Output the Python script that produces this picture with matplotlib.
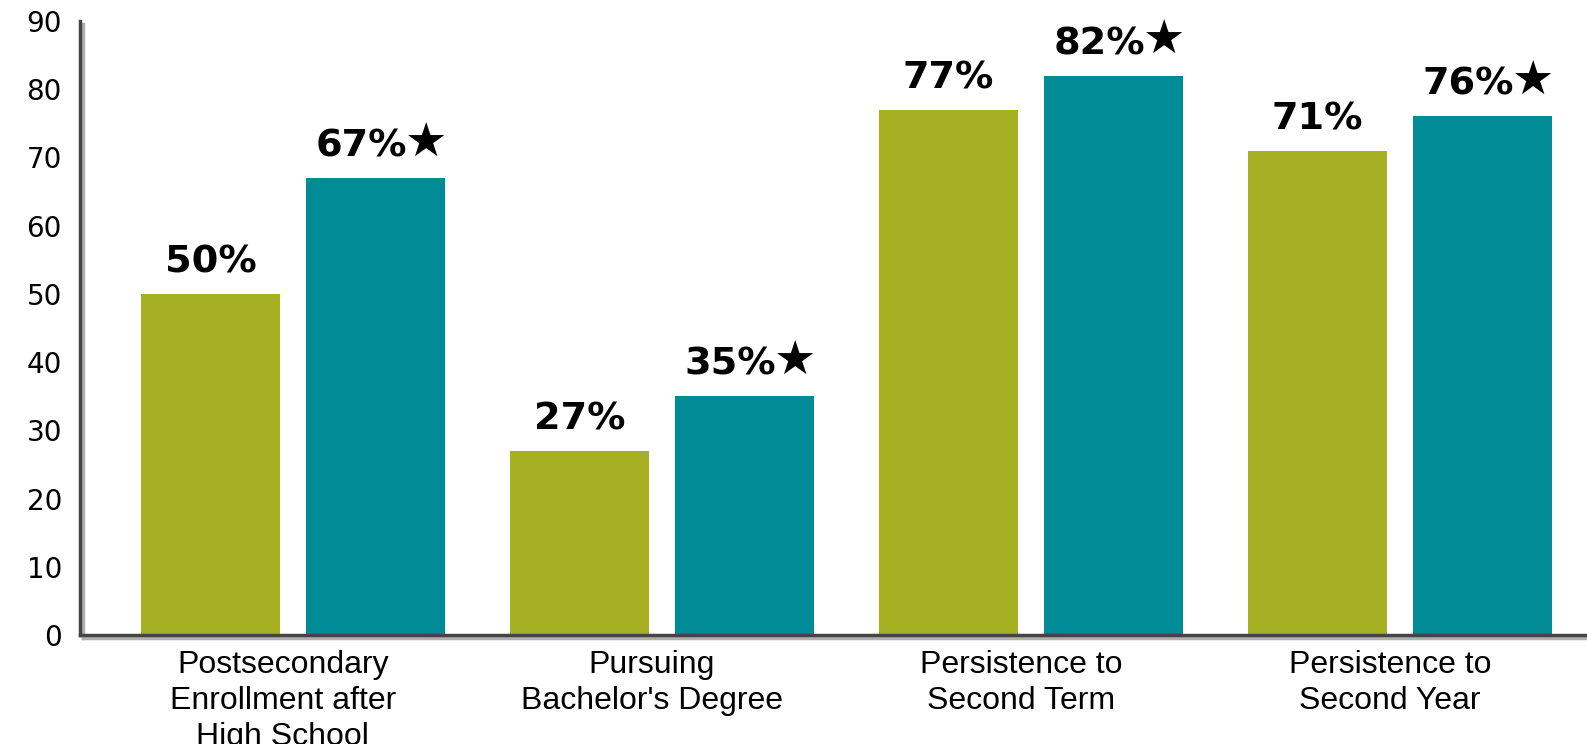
import numpy as np
import matplotlib
matplotlib.use("Agg")
import matplotlib.pyplot as plt
import matplotlib.patheffects as pe
import matplotlib.transforms as mtransforms

# data
categories = ["Postsecondary\nEnrollment after\nHigh School",
              "Pursuing\nBachelor's Degree",
              "Persistence to\nSecond Term",
              "Persistence to\nSecond Year"]
comparison = [50, 27, 77, 71]
program = [67, 35, 82, 76]
yticks = [0, 10, 20, 30, 40, 50, 60, 70, 80, 90]

olive = "#a6b023"
teal = "#008b96"

fig = plt.figure(figsize=(15.87, 7.44), dpi=100)
ax = fig.add_axes([0.0504, 0.1465, 0.9496, 0.8253])

x = np.arange(len(categories))
w = 0.377
off = 0.2236
b1 = ax.bar(x - off, comparison, w, color=olive, zorder=2)
b2 = ax.bar(x + off, program, w, color=teal, zorder=2)

for rect, v in zip(b1, comparison):
    ax.annotate(f"{v}%", (rect.get_x() + rect.get_width() / 2, v),
                xytext=(0, 15.5), textcoords="offset points",
                ha="center", va="baseline", fontsize=27.5,
                fontweight="bold", family="DejaVu Sans")
for rect, v in zip(b2, program):
    cx = rect.get_x() + rect.get_width() / 2
    ax.annotate(f"{v}%", (cx, v),
                xytext=(23, 15.5), textcoords="offset points",
                ha="right", va="baseline", fontsize=27.5,
                fontweight="bold", family="DejaVu Sans")
    ax.annotate("\u2605", (cx, v),
                xytext=(21, 15.5), textcoords="offset points",
                ha="left", va="baseline", fontsize=34,
                family="DejaVu Sans")

ax.set_xlim(-0.577, 3.507)
ax.set_ylim(0, 90)
ax.set_yticks(yticks)
ax.set_yticklabels([str(t) for t in yticks], fontsize=20, family="DejaVu Sans")
ax.set_xticks(x)
ax.set_xticklabels(categories, fontsize=23, family="Liberation Sans",
                   linespacing=1.25)
ax.tick_params(axis="both", length=0)
ax.tick_params(axis="y", pad=13)
ax.tick_params(axis="x", pad=11)
shift = mtransforms.ScaledTranslation(-0.1, 0, fig.dpi_scale_trans)
for lab in ax.get_xticklabels():
    lab.set_transform(lab.get_transform() + shift)

for s in ["top", "right"]:
    ax.spines[s].set_visible(False)
for s in ["left", "bottom"]:
    ax.spines[s].set_color("#444444")
    ax.spines[s].set_linewidth(2.5)
    ax.spines[s].set_zorder(3)
    ax.spines[s].set_path_effects([
        pe.SimpleLineShadow(offset=(2, -2), shadow_color="#b0b0b0", alpha=1),
        pe.Normal()])

fig.savefig("out.png", dpi=100)
